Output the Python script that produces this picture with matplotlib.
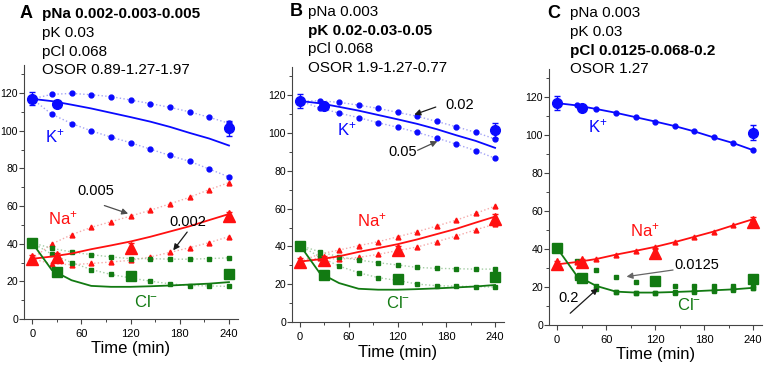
import numpy as np
import matplotlib.pyplot as plt
from matplotlib.ticker import MultipleLocator

plt.rcParams['font.family'] = ['Liberation Sans', 'DejaVu Sans']
plt.rcParams['mathtext.fontset'] = 'custom'
plt.rcParams['mathtext.rm'] = 'Liberation Sans'
plt.rcParams['mathtext.it'] = 'Liberation Sans:italic'

# --- data -------------------------------------------------------------
t_mod = [0, 24, 48, 72, 96, 120, 144, 168, 192, 216, 240]

# model with base parameters (solid lines)
K_mod = [117, 115.8, 113.9, 111.9, 109.6, 107.3, 104.9, 102.1, 98.9, 95.9, 92.2]
Na_mod = [32, 33.2, 34.8, 37.1, 39.1, 41.2, 43.7, 46.5, 49.3, 52.6, 55.8]
Cl_mod = [40.5, 26, 20.6, 17.6, 17.1, 17.1, 17.4, 17.8, 18.3, 18.8, 19.6]

# A: pNa varied
K_A1 = [117, 119.4, 119.9, 119.2, 118.2, 116.4, 114.5, 112.5, 110.1, 107.2, 104]
K_A2 = [117, 108.8, 103.9, 100, 96.7, 93.7, 90.3, 86.9, 83.8, 79.7, 75.5]
Na_A1 = [32, 29.3, 28.9, 29.5, 30.3, 31.2, 33, 35.4, 37.9, 40.6, 43.8]
Na_A2 = [32, 39.9, 44.8, 48.7, 51.7, 54.7, 57.8, 61.2, 64.7, 68.8, 72.5]
Cl_A1 = [40.5, 37.6, 35.6, 34.2, 33, 32.1, 32.1, 31.8, 31.8, 32.1, 32.5]
Cl_A2 = [40.5, 34.4, 30, 26.3, 23.7, 21.8, 20.1, 18.7, 17.8, 17.6, 17.3]

# B: pK varied
K_B1 = [117, 117.1, 116.3, 114.8, 113.1, 111, 108.9, 106.2, 103.4, 100.4, 96.9]
K_B2 = [117, 113.3, 110.6, 108.2, 105.5, 103.1, 100.4, 97.4, 94.2, 90.7, 86.7]
Na_B1 = [32, 36, 38.1, 40.4, 42.5, 45.1, 47.8, 50.8, 53.9, 57.5, 61.3]
Na_B2 = [32, 34, 33.2, 34.2, 35.8, 37.8, 39.7, 42.5, 45.5, 48.8, 51.8]
Cl_B1 = [40.5, 37.2, 34.5, 32.8, 31.4, 30.2, 28.9, 28.4, 28.2, 28, 28]
Cl_B2 = [40.5, 34.5, 29.6, 26.1, 23.5, 22, 20.1, 19.2, 19, 18.7, 18.5]

# C: pCl varied
Cl_C1 = [40.5, 33.8, 28.9, 25.2, 22.9, 22.3, 20.8, 20.6, 20.5, 20.6, 21.0]
Cl_C2 = [40.5, 25, 18.8, 17.3, 17, 16.9, 17.1, 17.5, 18.1, 18.6, 19.3]

# experiment
K_t = [0, 30, 240]
K_exp = [117, 114.5, 101.5]
K_err = [3.5, 1.5, 4]
Na_t = [0, 30, 120, 240]
Na_exp = [32, 33, 38, 54.5]
Na_err = [2, 2, 2.5, 2.5]
Cl_t = [0, 30, 120, 240]
Cl_exp = [40.5, 25, 23, 24]
Cl_err = [1, 1, 1.5, 1]

headers = {
    'A': ['pNa 0.002-0.003-0.005', 'pK 0.03', 'pCl 0.068', 'OSOR 0.89-1.27-1.97'],
    'B': ['pNa 0.003', 'pK 0.02-0.03-0.05', 'pCl 0.068', 'OSOR 1.9-1.27-0.77'],
    'C': ['pNa 0.003', 'pK 0.03', 'pCl 0.0125-0.068-0.2', 'OSOR 1.27'],
}
bold_line = {'A': 0, 'B': 1, 'C': 2}

# --- style ------------------------------------------------------------
BLUE, RED, GREEN = '#0a0aff', '#ff1010', '#127a12'
LBLUE, LRED, LGREEN = '#a4a4f5', '#f5aaaa', '#a4cca4'

W, H = 765, 367
fig = plt.figure(figsize=(W / 100, H / 100), dpi=100)


def px_axes(l, r, b, t):
    return fig.add_axes([l / W, 1 - b / H, (r - l) / W, (b - t) / H])


axA = px_axes(24, 238, 319, 65)
axB = px_axes(292, 504, 322, 67)
axC = px_axes(549, 762, 325, 69)


def variant(ax, y, color, lcolor, marker, ms, line=True):
    ax.plot(t_mod, y, ls=':' if line else 'none', lw=1.0, color=lcolor,
            marker=marker, ms=ms, mfc=color, mec=color, zorder=2)


def base(ax, markers=False):
    kw = dict(lw=1.3, zorder=3)
    ax.plot(t_mod, K_mod, color=BLUE, marker='o' if markers else None, ms=3.5, **kw)
    ax.plot(t_mod, Na_mod, color=RED, marker='^' if markers else None, ms=3.5, **kw)
    ax.plot(t_mod, Cl_mod, color=GREEN, marker='s' if markers else None, ms=3.2, **kw)


def experiment(ax):
    ax.errorbar(K_t, K_exp, yerr=K_err, fmt='o', color=BLUE, ms=7, capsize=2,
                elinewidth=1, zorder=5)
    ax.errorbar(Na_t, Na_exp, yerr=Na_err, fmt='^', color=RED, ms=8, capsize=2,
                elinewidth=1, zorder=5)
    ax.errorbar(Cl_t, Cl_exp, yerr=Cl_err, fmt='s', color=GREEN, ms=6.5, capsize=2,
                elinewidth=1, zorder=5)


def setup(ax):
    ax.set_xlim(-10, 251)
    ax.set_ylim(0, 135)
    for s in ['top', 'right']:
        ax.spines[s].set_visible(False)
    for s in ['left', 'bottom']:
        ax.spines[s].set_color('#444444')
        ax.spines[s].set_linewidth(0.8)
    ax.xaxis.set_major_locator(MultipleLocator(60))
    ax.xaxis.set_minor_locator(MultipleLocator(30))
    ax.yaxis.set_major_locator(MultipleLocator(20))
    ax.yaxis.set_minor_locator(MultipleLocator(10))
    ax.set_yticks(np.arange(0, 121, 20))
    ax.tick_params(which='major', direction='out', length=3.5, width=0.8,
                   color='#444444', labelsize=8)
    ax.tick_params(which='minor', direction='out', length=2, width=0.7,
                   color='#444444')
    ax.tick_params(axis='y', pad=0.8, labelsize=7.6)
    ax.set_xlabel('Time (min)', fontsize=12, labelpad=2)
    ax.patch.set_alpha(0)


def arrow(ax, xy, xytext, color='0.1'):
    ax.annotate('', xy=xy, xytext=xytext,
                arrowprops=dict(arrowstyle='-|>', color=color, lw=0.9,
                                mutation_scale=9, shrinkA=0, shrinkB=0))


# --- panel A ---
ax = axA
variant(ax, K_A1, BLUE, LBLUE, 'o', 3.5)
variant(ax, K_A2, BLUE, LBLUE, 'o', 3.5)
variant(ax, Na_A1, RED, LRED, '^', 3.5)
variant(ax, Na_A2, RED, LRED, '^', 3.5)
variant(ax, Cl_A1, GREEN, LGREEN, 's', 3.2)
variant(ax, Cl_A2, GREEN, LGREEN, 's', 3.2)
base(ax)
experiment(ax)
ax.text(27, 97, 'K$^{+}$', color=BLUE, fontsize=12, ha='center', va='center')
ax.text(37, 53.5, 'Na$^{+}$', color=RED, fontsize=12, ha='center', va='center')
ax.text(139, 9, 'Cl$^{-}$', color=GREEN, fontsize=12, ha='center', va='center')
ax.text(77, 68, '0.005', fontsize=10.5, ha='center', va='center')
arrow(ax, (117, 56), (88, 60.3), color='0.3')
ax.text(190, 51.3, '0.002', fontsize=10.5, ha='center', va='center')
arrow(ax, (172, 36.5), (189, 46.2))
setup(ax)

# --- panel B ---
ax = axB
variant(ax, K_B1, BLUE, LBLUE, 'o', 3.5)
variant(ax, K_B2, BLUE, LBLUE, 'o', 3.5)
variant(ax, Na_B1, RED, LRED, '^', 3.5)
variant(ax, Na_B2, RED, LRED, '^', 3.5)
variant(ax, Cl_B1, GREEN, LGREEN, 's', 3.2)
variant(ax, Cl_B2, GREEN, LGREEN, 's', 3.2)
base(ax)
experiment(ax)
ax.text(57, 102, 'K$^{+}$', color=BLUE, fontsize=12, ha='center', va='center')
ax.text(88, 54, 'Na$^{+}$', color=RED, fontsize=12, ha='center', va='center')
ax.text(120, 10, 'Cl$^{-}$', color=GREEN, fontsize=12, ha='center', va='center')
ax.text(197, 114.7, '0.02', fontsize=10.5, ha='center', va='center')
arrow(ax, (140.6, 109.8), (167, 113.8))
ax.text(126, 90, '0.05', fontsize=10.5, ha='center', va='center')
arrow(ax, (169, 95.7), (144.6, 90.9), color='0.3')
setup(ax)

# --- panel C ---
ax = axC
variant(ax, Cl_C1, GREEN, LGREEN, 's', 3.2, line=False)
variant(ax, Cl_C2, GREEN, LGREEN, 's', 3.2, line=False)
base(ax, markers=True)
experiment(ax)
ax.text(50, 104.7, 'K$^{+}$', color=BLUE, fontsize=12, ha='center', va='center')
ax.text(107, 50, 'Na$^{+}$', color=RED, fontsize=12, ha='center', va='center')
ax.text(162, 10.5, 'Cl$^{-}$', color=GREEN, fontsize=12, ha='center', va='center')
ax.text(171, 31.7, '0.0125', fontsize=10.5, ha='center', va='center')
arrow(ax, (85, 25.5), (142, 29), color='0.4')
ax.text(14, 14.3, '0.2', fontsize=10.5, ha='center', va='center')
arrow(ax, (50, 19.4), (16, 6.2))
setup(ax)

# --- headers ---
letter_x = {'A': 20, 'B': 290, 'C': 547}
text_x = {'A': 42, 'B': 308, 'C': 570}
rows_y = {'A': [14, 33, 52, 70], 'B': [12, 31, 49, 68], 'C': [13, 32, 51, 69]}
for key in ['A', 'B', 'C']:
    fig.text(letter_x[key] / W, 1 - rows_y[key][0] / H, key, fontsize=13,
             fontweight='bold', va='center', ha='left')
    for i, line in enumerate(headers[key]):
        fig.text(text_x[key] / W, 1 - rows_y[key][i] / H, line, fontsize=11,
                 fontweight='bold' if i == bold_line[key] else 'normal',
                 va='center', ha='left')

fig.savefig('out.png', dpi=100)
